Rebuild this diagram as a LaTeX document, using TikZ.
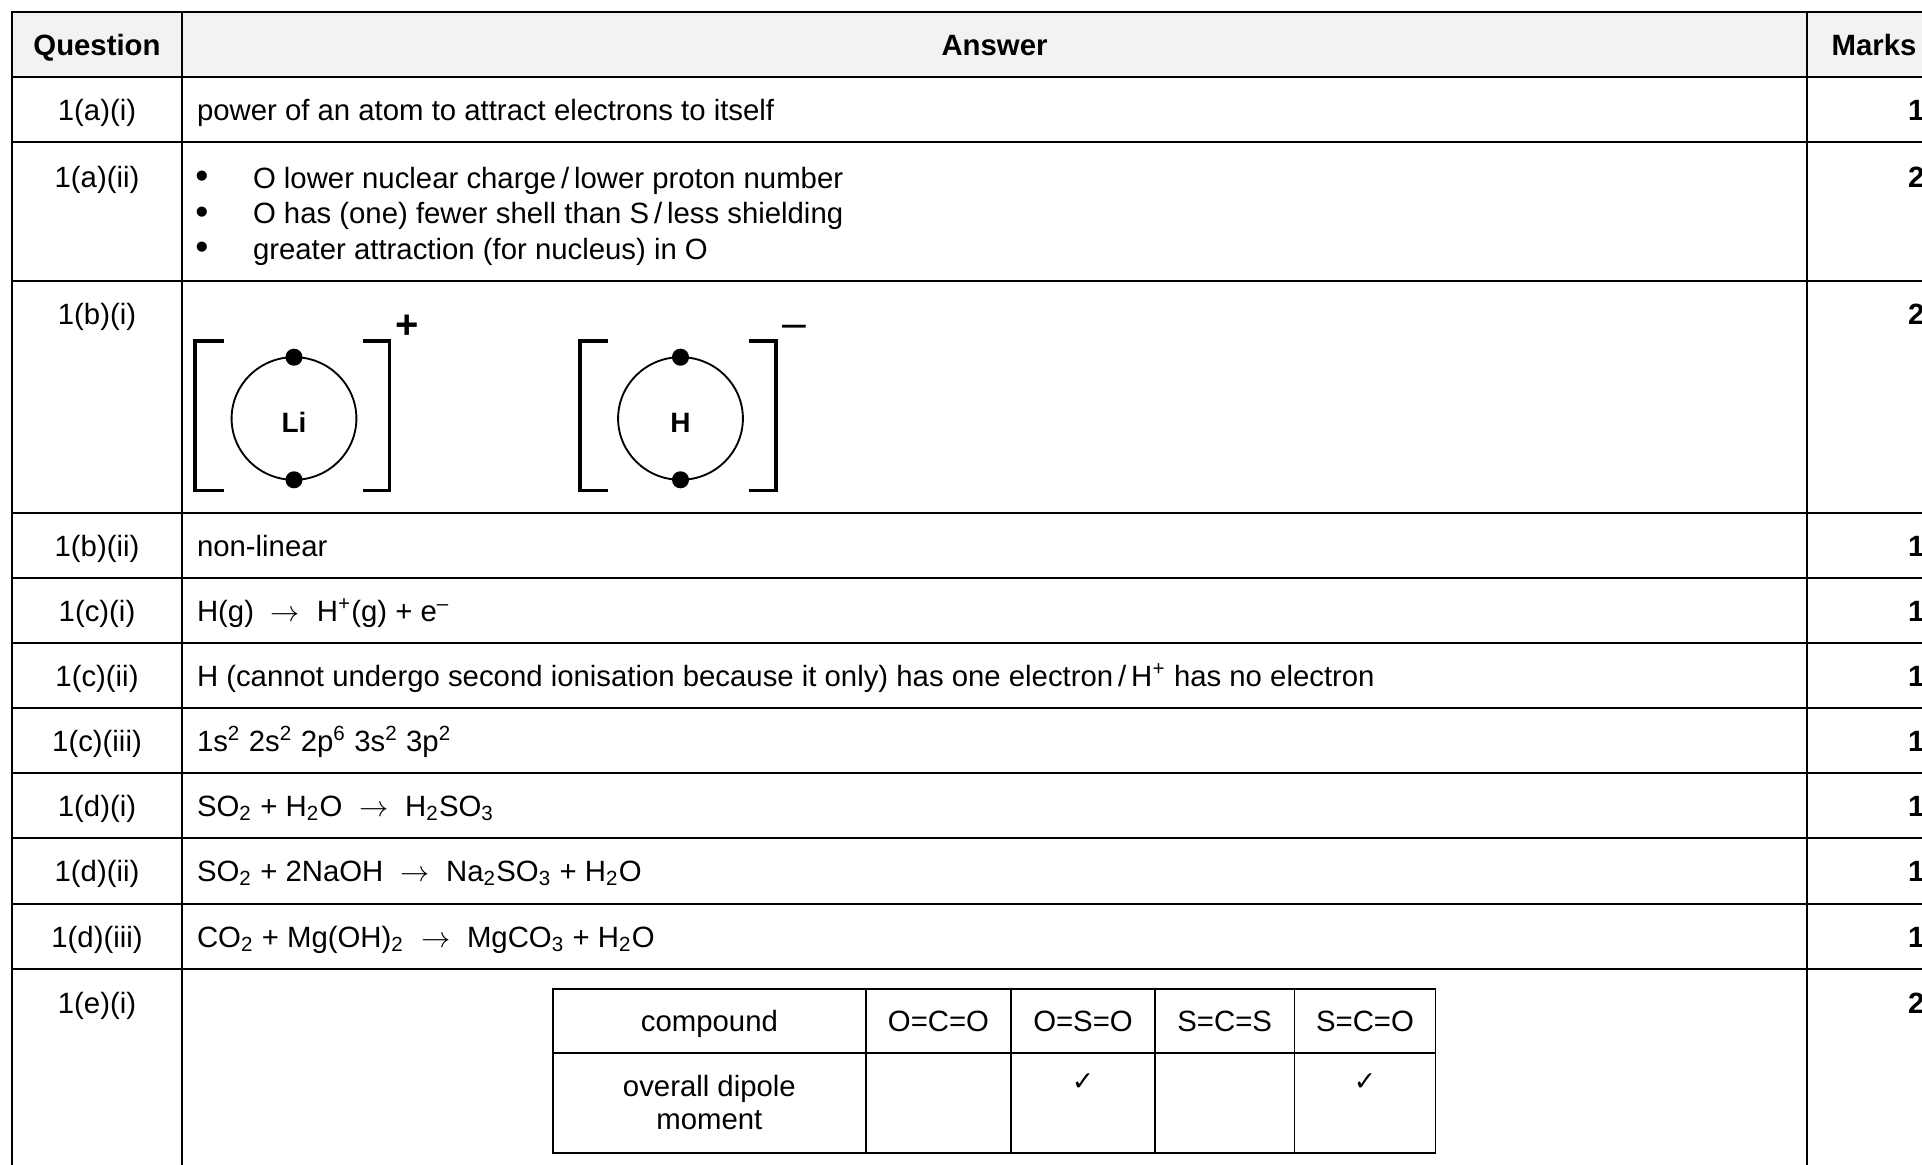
\documentclass[tikz,border=0pt]{standalone}
\usepackage{fontspec}
\setmainfont{Liberation Sans}
\newfontfamily\dejavu{DejaVu Sans}
\newcommand\arr{\hspace{6.3pt}$\rightarrow$\hspace{6.3pt}}
\begin{document}
\begin{tikzpicture}[x=0.375pt,y=-0.375pt,
  gridline/.style={line width=0.8pt,line cap=rect},
  thingrid/.style={line width=0.6pt,line cap=rect},
  txt/.style={inner sep=0pt,outer sep=0pt,font=\fontsize{11}{13}\selectfont},
  hd/.style={txt,font=\fontsize{11}{13}\selectfont\bfseries,anchor=base},
  lbl/.style={txt,anchor=base},
  ans/.style={txt,anchor=base west},
  bul/.style={inner sep=0pt,anchor=center,font=\fontsize{14}{16}\selectfont},
  mk/.style={txt,font=\fontsize{11}{13}\selectfont\bfseries,anchor=base west},
  shell/.style={line width=0.7pt},
  bracket/.style={line width=1.3pt},
  elec/.style={fill=black},
  chg/.style={inner sep=0pt,anchor=base,font=\fontsize{15}{18}\selectfont\bfseries},
  atom/.style={inner sep=0pt,font=\fontsize{10.5}{12}\selectfont\bfseries},
  tick/.style={inner sep=0pt,anchor=base,font=\dejavu\fontsize{10}{12}\selectfont}]
\useasboundingbox (0,0) rectangle (1922,1165);
\clip (0,0) rectangle (1922,1165);
\fill[white] (0,0) rectangle (1922,1165);
% header fill
\fill[black!5] (12,12) rectangle (1945,77);
% horizontal lines
\foreach \yy in {12,77,142,281,513,578,643,708,773,838,904,969}
  \draw[gridline] (12,\yy) -- (1945,\yy);
% vertical lines
\foreach \xx in {12,182,1807,1941}
  \draw[gridline] (\xx,12) -- (\xx,1175);
% header
\node[hd] (hq) at (97,56) {Question};
\node[hd] (ha) at (994.5,56) {Answer};
\node[hd] (hm) at (1874,56) {Marks};
% question labels
\node[lbl] (q1) at (97,121) {1(a)(i)};
\node[lbl] (q2) at (97,188) {1(a)(ii)};
\node[lbl] (q3) at (97,324.5) {1(b)(i)};
\node[lbl] (q4) at (97,556.5) {1(b)(ii)};
\node[lbl] (q5) at (97,621.5) {1(c)(i)};
\node[lbl] (q6) at (97,686.5) {1(c)(ii)};
\node[lbl] (q7) at (97,751.5) {1(c)(iii)};
\node[lbl] (q8) at (97,816.5) {1(d)(i)};
\node[lbl] (q9) at (97,881.5) {1(d)(ii)};
\node[lbl] (q10) at (97,947.5) {1(d)(iii)};
\node[lbl] (q11) at (97,1013) {1(e)(i)};
% marks
\node[mk] (m1) at (1908,121) {1};
\node[mk] (m2) at (1908,188) {2};
\node[mk] (m3) at (1908,324.5) {2};
\node[mk] (m4) at (1908,556.5) {1};
\node[mk] (m5) at (1908,621.5) {1};
\node[mk] (m6) at (1908,686.5) {1};
\node[mk] (m7) at (1908,751.5) {1};
\node[mk] (m8) at (1908,816.5) {1};
\node[mk] (m9) at (1908,881.5) {1};
\node[mk] (m10) at (1908,947.5) {1};
\node[mk] (m11) at (1908,1013) {2};
% answers
\node[ans] (a1) at (197,121) {power of an atom to attract electrons to itself};
\node[bul] (b1) at (202,180) {\textbullet};
\node[bul] (b2) at (202,215.5) {\textbullet};
\node[bul] (b3) at (202,251) {\textbullet};
\node[ans] (a2a) at (253,188.5) {O lower nuclear charge\,/\,lower proton number};
\node[ans] (a2b) at (253,224) {O has (one) fewer shell than S\,/\,less shielding};
\node[ans] (a2c) at (253,259.5) {greater attraction (for nucleus) in O};
\node[ans] (a4) at (197,556.5) {non-linear};
\node[ans] (a5) at (197,621.5) {H(g)\arr H\textsuperscript{+}(g) + e\textsuperscript{–}};
\node[ans] (a6) at (197,686.5) {H (cannot undergo second ionisation because it only) has one electron\,/\,H\textsuperscript{+} has no electron};
\node[ans] (a7) at (197,751.5) {1s\textsuperscript{2} 2s\textsuperscript{2} 2p\textsuperscript{6} 3s\textsuperscript{2} 3p\textsuperscript{2}};
\node[ans] (a8) at (197,816.5) {SO\textsubscript{2} + H\textsubscript{2}O\arr H\textsubscript{2}SO\textsubscript{3}};
\node[ans] (a9) at (197,881.5) {SO\textsubscript{2} + 2NaOH\arr Na\textsubscript{2}SO\textsubscript{3} + H\textsubscript{2}O};
\node[ans] (a10) at (197,947.5) {CO\textsubscript{2} + Mg(OH)\textsubscript{2}\arr MgCO\textsubscript{3} + H\textsubscript{2}O};
% dot-and-cross diagrams
\draw[bracket] (223.8,341) -- (194.8,341) -- (194.8,490.7) -- (223.8,490.7);
\draw[bracket] (362.7,341) -- (389.7,341) -- (389.7,490.7) -- (362.7,490.7);
\draw[shell] (294,418.5) ellipse [x radius=23.4pt, y radius=23pt];
\fill[elec] (294,357.2) circle [radius=3.2pt];
\fill[elec] (294,479.8) circle [radius=3.2pt];
\node[atom] (li) at (294,422.7) {Li};
\node[chg] (plus) at (407,339) {+};
\draw[bracket] (608,341) -- (580,341) -- (580,490.7) -- (608,490.7);
\draw[bracket] (749,341) -- (776,341) -- (776,490.7) -- (749,490.7);
\draw[shell] (680.5,418.5) ellipse [x radius=23.4pt, y radius=23pt];
\fill[elec] (680.5,357.2) circle [radius=3.2pt];
\fill[elec] (680.5,479.8) circle [radius=3.2pt];
\node[atom] (h) at (680.5,422.7) {H};
\node[chg,font=\fontsize{16}{18}\selectfont] (minus) at (794,338) {–};
% inner table 1(e)(i)
\foreach \yy in {989,1053,1153}
  \draw[thingrid] (552.8,\yy) -- (1435.5,\yy);
\foreach \xx in {552.8,866,1011,1155,1294.5,1435.5}
  \draw[thingrid] (\xx,989) -- (\xx,1153);
\node[lbl] (c0) at (709.4,1031.5) {compound};
\node[lbl] (c1) at (938.5,1031.5) {O=C=O};
\node[lbl] (c2) at (1083,1031.5) {O=S=O};
\node[lbl] (c3) at (1224.7,1031.5) {S=C=S};
\node[lbl] (c4) at (1365,1031.5) {S=C=O};
\node[lbl] (d0a) at (709.4,1096.5) {overall dipole};
\node[lbl] (d0b) at (709.4,1129.5) {moment};
\node[tick] (t2) at (1083,1090) {✓};
\node[tick] (t4) at (1365,1090) {✓};
\end{tikzpicture}
\end{document}
